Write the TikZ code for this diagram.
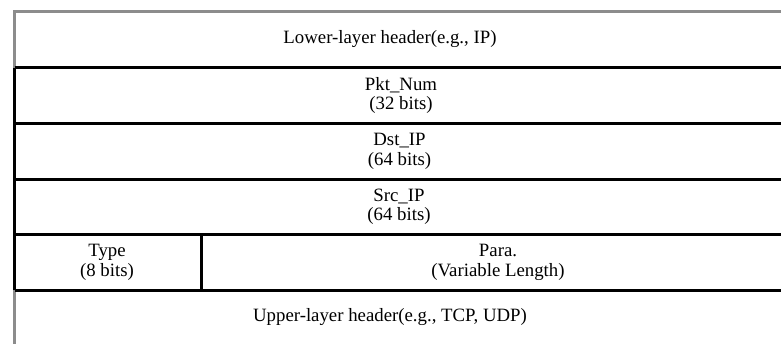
\documentclass[tikz,border=0pt]{standalone}
\usepackage{fontspec}
\setmainfont{Liberation Serif}
\begin{document}
\begin{tikzpicture}[x=1pt,y=-1pt,
  frame/.style={draw=black!45, line width=3pt},
  rule/.style={draw=black, line width=3pt},
  field/.style={align=center, inner sep=0pt, font=\fontsize{18.8}{19.5}\selectfont}]
\useasboundingbox (0,0) rectangle (781,343);
% outer (grey) frame of the whole packet
\draw[frame] (14.5,360) -- (14.5,11.7) -- (800,11.7);
% row boundaries of the inserted header
\coordinate (r0) at (14.5,67.5);
\coordinate (r1) at (14.5,123.3);
\coordinate (r2) at (14.5,179.3);
\coordinate (r3) at (14.5,234.7);
\coordinate (r4) at (14.5,290.3);
\coordinate (e0) at (800,67.5);
\coordinate (e1) at (800,123.3);
\coordinate (e2) at (800,179.3);
\coordinate (e3) at (800,234.7);
\coordinate (e4) at (800,290.3);
\coordinate (d0) at (201,234.7);
\coordinate (d1) at (201,290.3);
\draw[rule] (r0) -- (e0);
\draw[rule] (r1) -- (e1);
\draw[rule] (r2) -- (e2);
\draw[rule] (r3) -- (e3);
\draw[rule] (r4) -- (e4);
\draw[rule] (r0) -- (r4);
\draw[rule] (d0) -- (d1);
% field labels
\node[field] (lower) at (390,39.5) {Lower-layer header(e.g., IP)};
\node[field] (pkt) at (401,95.4) {Pkt\_Num\\(32 bits)};
\node[field] (dst) at (399.5,151.3) {Dst\_IP\\(64 bits)};
\node[field] (src) at (399,207) {Src\_IP\\(64 bits)};
\node[field] (type) at (107,262.5) {Type\\(8 bits)};
\node[field] (para) at (498,262.5) {Para.\\(Variable Length)};
\node[field] (upper) at (390,317) {Upper-layer header(e.g., TCP, UDP)};
\end{tikzpicture}
\end{document}
